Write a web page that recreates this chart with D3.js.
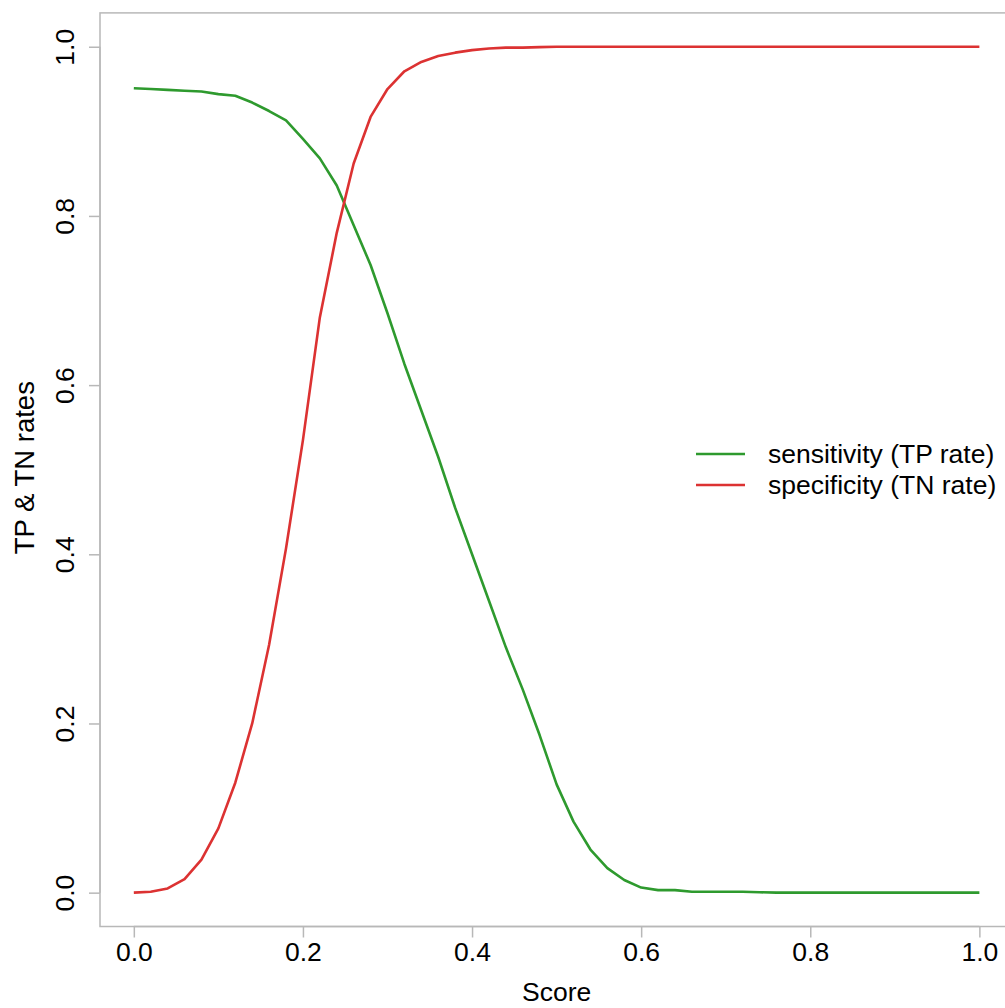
<!DOCTYPE html>
<html><head><meta charset="utf-8">
<script src="https://cdn.jsdelivr.net/npm/d3@7"></script>
<style>body{margin:0;background:#fff}svg{display:block}text{font-family:"Liberation Sans",Arial,sans-serif;fill:#000}</style>
</head><body>
<script>
const scores = [0,0.02,0.04,0.06,0.08,0.10,0.12,0.14,0.16,0.18,0.20,0.22,0.24,0.26,0.28,0.30,0.32,0.34,0.36,0.38,0.40,0.42,0.44,0.46,0.48,0.50,0.52,0.54,0.56,0.58,0.60,0.62,0.64,0.66,0.68,0.70,0.72,0.74,0.76,0.78,0.80,0.82,0.84,0.86,0.88,0.90,0.92,0.94,0.96,0.98,1.00];
const sensitivity = [0.951,0.950,0.949,0.948,0.947,0.944,0.942,0.934,0.924,0.913,0.891,0.868,0.836,0.789,0.742,0.685,0.625,0.570,0.515,0.455,0.400,0.345,0.290,0.240,0.186,0.128,0.084,0.051,0.029,0.015,0.006,0.003,0.003,0.001,0.001,0.001,0.001,0.0005,0,0,0,0,0,0,0,0,0,0,0,0,0];
const specificity = [0.000,0.001,0.005,0.016,0.039,0.076,0.130,0.200,0.293,0.407,0.535,0.680,0.780,0.862,0.917,0.950,0.971,0.982,0.989,0.993,0.996,0.998,0.999,0.999,0.9995,1,1,1,1,1,1,1,1,1,1,1,1,1,1,1,1,1,1,1,1,1,1,1,1,1,1];
const xTicks = [0,0.2,0.4,0.6,0.8,1.0];
const yTicks = [0,0.2,0.4,0.6,0.8,1.0];
const seriesNames = ["sensitivity (TP rate)","specificity (TN rate)"];
const seriesColors = ["#2e9a2e","#dc3232"];

const W=1005,H=1008;
const svg=d3.select("body").append("svg").attr("width",W).attr("height",H);
const x=d3.scaleLinear().domain([-0.04,1.04]).range([100,1013.2]);
const y=d3.scaleLinear().domain([-0.04,1.04]).range([926.5,12.9]);
const axisCol="#b8b8b8";

// frame
svg.append("rect").attr("x",100).attr("y",12.9).attr("width",913.2).attr("height",913.6)
  .attr("fill","none").attr("stroke",axisCol).attr("stroke-width",1.5);

// x axis
const xa=svg.append("g").attr("transform","translate(0,926.5)")
  .call(d3.axisBottom(x).tickValues(xTicks).tickFormat(d3.format(".1f")).tickSize(11).tickPadding(8).tickSizeOuter(0));
xa.select(".domain").attr("stroke",axisCol).attr("stroke-width",1.5).attr("d",`M${x(0)},0H${x(1)}`);
xa.selectAll(".tick line").attr("stroke",axisCol).attr("stroke-width",1.5);
xa.selectAll(".tick text").attr("font-size",26.5).attr("font-family","Liberation Sans, Arial, sans-serif").attr("fill","#000").attr("dy","0.6em");

// y axis
const ya=svg.append("g").attr("transform","translate(100,0)")
  .call(d3.axisLeft(y).tickValues(yTicks).tickFormat(d3.format(".1f")).tickSize(11).tickSizeOuter(0));
ya.select(".domain").attr("stroke",axisCol).attr("stroke-width",1.5).attr("d",`M0,${y(0)}V${y(1)}`);
ya.selectAll(".tick line").attr("stroke",axisCol).attr("stroke-width",1.5);
ya.selectAll(".tick text").attr("font-size",26.5).attr("font-family","Liberation Sans, Arial, sans-serif").attr("fill","#000")
  .attr("x",0).attr("dy",0).attr("text-anchor","middle")
  .attr("transform","translate(-26,0) rotate(-90)");

// axis titles
svg.append("text").attr("x",x(0.5)).attr("y",1001).attr("text-anchor","middle").attr("font-size",26.5).text("Score");
svg.append("text").attr("transform",`translate(34,${y(0.5)-2}) rotate(-90)`).attr("text-anchor","middle").attr("font-size",27.5).text("TP & TN rates");

// lines
const line=d3.line().x(d=>x(d[0])).y(d=>y(d[1]));
[sensitivity,specificity].forEach((s,i)=>{
  svg.append("path").datum(scores.map((v,j)=>[v,s[j]])).attr("d",line)
    .attr("fill","none").attr("stroke",seriesColors[i]).attr("stroke-width",2.6).attr("stroke-linejoin","round");
});

// legend
seriesNames.forEach((n,i)=>{
  const ly=454+i*31;
  svg.append("line").attr("x1",696).attr("x2",745).attr("y1",ly).attr("y2",ly).attr("stroke",seriesColors[i]).attr("stroke-width",2.6);
  svg.append("text").attr("x",768).attr("y",ly).attr("dy","0.35em").attr("font-size",26.5).text(n);
});
</script>
</body></html>
